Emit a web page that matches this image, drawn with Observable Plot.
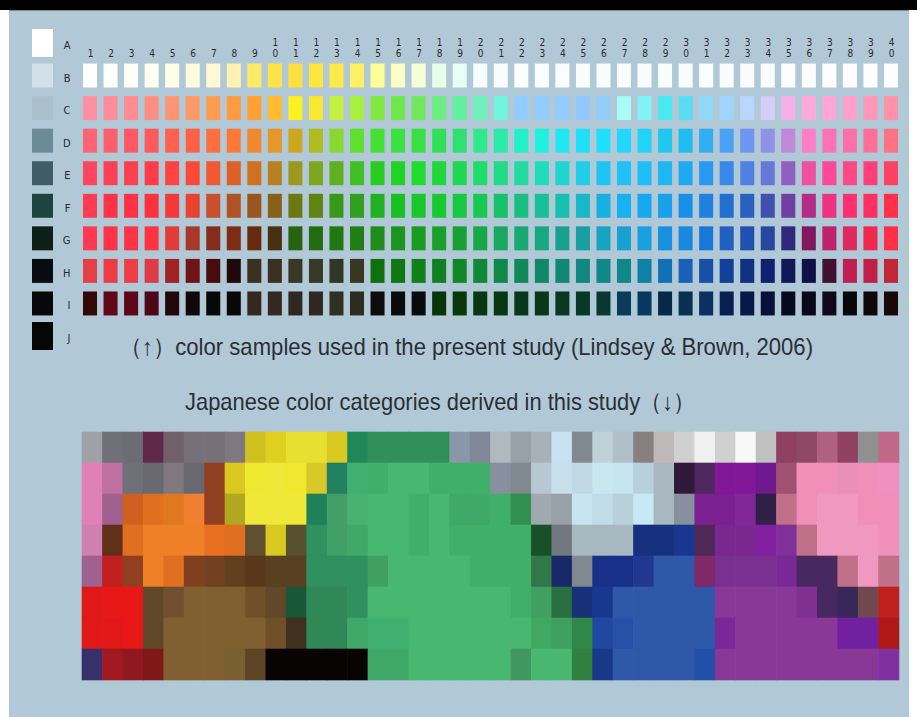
<!DOCTYPE html>
<html><head><meta charset="utf-8">
<script src="https://cdn.jsdelivr.net/npm/d3@7"></script>
<script src="https://cdn.jsdelivr.net/npm/@observablehq/plot@0.6"></script>
<style>
html,body{margin:0;padding:0;background:#fff;}
#wrap{position:relative;width:917px;height:717px;overflow:hidden;background:#fff;}
#band{position:absolute;left:0;top:0;width:917px;height:10px;background:#000;}
#panel{position:absolute;left:9px;top:10px;width:900px;height:707px;background:#b1c8d7;border-top:1px solid #7d8c94;box-sizing:border-box;}
.layer{position:absolute;left:0;top:0;}
.cap{position:absolute;white-space:nowrap;font-family:"Liberation Sans",Arial,sans-serif;font-size:24px;line-height:24px;color:#2a2f34;transform-origin:0 0;}
</style></head>
<body>
<div id="wrap"><div id="band"></div><div id="panel"></div></div>
<script>
// ---- data ----
const columns = [1,2,3,4,5,6,7,8,9,10,11,12,13,14,15,16,17,18,19,20,21,22,23,24,25,26,27,28,29,30,31,32,33,34,35,36,37,38,39,40];
const allRows = ["A","B","C","D","E","F","G","H","I","J"];
const chipRows = ["B","C","D","E","F","G","H","I"];
const achromatic = ["#ffffff","#d2e0e9","#a9c0cc","#6b8b97","#405c64","#1e4440","#0c2018","#080c10","#080808","#060606"];

const chipB = ["#ffffff","#fdfffa","#fdfff5","#fdfff0","#fefde8","#fefbdf","#fff8d2","#fff2b5","#ffea68","#ffe248","#ffe040","#ffe540","#ffea48","#fff064","#ffff98","#fcfdc4","#f5ffd6","#e8ffe8","#e6fff4","#f4ffff","#f8feff","#fafeff","#fafdff","#fafdff","#fafdff","#fafdff","#fafdff","#fafdff","#fafdff","#fafdff","#fafdff","#fafdff","#fafdff","#fafdff","#fdfdff","#fdfdff","#fdfdff","#fdfdff","#fdfdff","#fdfdff"];
const chipC = ["#ff90a2","#ff8c98","#ff8c8e","#ff8e82","#ff9474","#ff9a66","#ff9c50","#ff9a40","#ffa032","#ffbc30","#fff020","#f8e830","#c4f040","#a8f040","#80e840","#70e84c","#70e85c","#6cee80","#62f09c","#6ef2bc","#70f6dc","#90ccff","#90ccff","#90ccff","#90c8ff","#92ccf8","#a8fcf8","#80f4f4","#48eaf0","#58dcf2","#90d8f8","#a0d4ff","#b8d6ff","#d4cef8","#f6b0e8","#ffa8da","#ffa6d6","#ffa0c8","#ff98b8","#ff92aa"];
const chipD = ["#ff6474","#ff5e6c","#ff5866","#ff5a5c","#ff6050","#ff6048","#ff6e40","#ff7838","#f08830","#e49828","#cca820","#b0bc20","#88d830","#5ee030","#44e034","#3ce040","#38e044","#32e058","#30e074","#30e88e","#2ceaa8","#22f0c6","#20f0e0","#20e8f0","#20e0f8","#20deff","#20d8ff","#20d4f8","#20c8f0","#20bef0","#30aef0","#4ca0f6","#6c96f0","#9092e8","#c088d8","#ff7ec8","#ff72b8","#ff70a8","#ff7098","#ff7282"];
const chipE = ["#ff4660","#ff4056","#ff404e","#ff3c48","#ff4440","#ff4838","#f05830","#dc6028","#d07020","#b88020","#9c9820","#80a620","#60b020","#40c024","#28cc20","#20d424","#20dc2c","#20d83c","#20d850","#20dc68","#20dc84","#20dca0","#20dcba","#20d4d0","#20cce6","#20c4f2","#20c0f8","#20bef8","#20b6f0","#20a8f0","#2898f0","#3888e8","#5080e0","#6878d8","#9060c0","#f050a0","#ff4898","#ff4888","#ff4078","#ff4262"];
const chipF = ["#ff3a52","#ff3248","#ff3246","#ff3040","#f23a3a","#e84232","#c84e2c","#b05222","#9a561c","#886018","#6c7812","#608412","#389818","#30a020","#20b020","#18c020","#18c828","#18c830","#18c840","#18c850","#18c068","#18c080","#18c098","#18c0b0","#18b8c8","#18b0e0","#18b0f0","#18a8f0","#18a0e8","#1890e8","#2080e0","#2070d0","#2860c0","#4050b0","#7040a0","#b42c88","#f03080","#ff3070","#ff3060","#ff3048"];
const chipG = ["#ff3a50","#ff3448","#ff3448","#ff3440","#e23c3a","#a83828","#862c1a","#7e2e12","#682a0c","#483010","#286410","#246c12","#207812","#207e16","#208c20","#1c9420","#189c22","#18a028","#18a036","#18a848","#18a860","#18a870","#18a880","#18a090","#18a0a0","#18a4c0","#18a0d0","#18a0e0","#1890e0","#1888e0","#1878d8","#2060c0","#2050b0","#2848a0","#302878","#801860","#c02070","#e02860","#f02850","#ff3048"];
const chipH = ["#e44048","#ec3c44","#ec4048","#dc3c48","#a02424","#701414","#480c0c","#200808","#3c3020","#3c3020","#383824","#383828","#303824","#383820","#107010","#107810","#108018","#108020","#108828","#108838","#108848","#108858","#108868","#108878","#108880","#108888","#108888","#1080a8","#1070b8","#1860b8","#1850a8","#104098","#103080","#102070","#101858","#101048","#401030","#c02050","#c02048","#c02838"];
const chipI = ["#340808","#600818","#5c0818","#4c0818","#200808","#100808","#080808","#080808","#342820","#342820","#302820","#302820","#303020","#2c2c20","#0c0c0c","#0a0a0a","#0a0a0a","#083408","#083808","#083810","#083810","#083818","#083818","#083820","#083828","#083830","#083c58","#083860","#082848","#083050","#083060","#082050","#081848","#081038","#080820","#080818","#100818","#080808","#100808","#180808"];

const catB = ["#a0a0a8","#707078","#6c6c74","#602848","#706068","#787078","#787078","#807880","#d0c020","#e0d020","#e8e030","#e8e030","#d8c820","#208858","#309058","#309058","#309058","#309058","#8898a8","#808898","#b0b8c0","#98a0a8","#a8b0b8","#c8e0f0","#808890","#c0d0d8","#b0c0c8","#888080","#c0b8b8","#d0d0d0","#f0f0f0","#d0d0d0","#f8f8f8","#c0c0c0","#904060","#904868","#b06080","#904060","#909090","#c06888"];
const catC = ["#e080b8","#c070a0","#707078","#686870","#807880","#686870","#904020","#d8c820","#f0e830","#f0e838","#f0e830","#d8c828","#208060","#40b070","#40b068","#48b870","#48b870","#40b068","#40b068","#40b068","#8890a0","#808890","#b8c8d0","#c8e0ec","#c0d8e4","#c8e8f0","#c8e4f0","#b8d0dc","#a8b8c0","#301838","#502860","#801898","#801898","#701890","#a05070","#f090b8","#f090b8","#e890b8","#f090b8","#f090c0"];
const catD = ["#e080b8","#a06090","#d06020","#e07020","#e07820","#f08030","#904020","#b0a820","#f0e838","#f0e838","#f0e838","#208058","#40a068","#48b070","#48b870","#48b870","#40b068","#48b870","#40a868","#40a868","#40b068","#309050","#a0a8b0","#98a0a8","#c8e4f0","#c0dce8","#b8d0d8","#c8e8f4","#a8b8c0","#8890a0","#7a2090","#7a2090","#802898","#302048","#c07088","#f090b8","#f098c0","#f098c0","#f090b8","#f090b8"];
const catE = ["#d080b0","#603018","#e07020","#f08028","#f08028","#f08028","#e87020","#e07020","#605030","#d8c820","#585030","#309060","#40a068","#40a868","#48b870","#48b870","#40b068","#48b870","#40b068","#40b068","#40b068","#40b068","#185028","#707880","#a8b8c0","#a8b8c0","#a8b8c0","#183080","#183080","#183890","#502858","#7a2890","#7a2890","#8020a0","#803098","#c07088","#f098c0","#f098c0","#f098c0","#f090b8"];
const catF = ["#a06090","#c02020","#904020","#f08028","#e07020","#804020","#704020","#604020","#583818","#584020","#584020","#309060","#309060","#309060","#40a060","#48b870","#48b870","#48b870","#48b870","#40b068","#40b068","#40b068","#307848","#182868","#808890","#183088","#183088","#203890","#3058a8","#3058a8","#802868","#7a3090","#7a3090","#7a3090","#7a2898","#482860","#482860","#c07088","#f098c0","#c07088"];
const catG = ["#e01818","#e81818","#e81818","#604828","#705030","#806030","#806030","#806030","#705028","#604828","#185838","#308858","#308858","#309060","#48b870","#48b870","#48b870","#48b870","#48b870","#48b870","#48b870","#40b068","#40a060","#287040","#183078","#183890","#3058a8","#3058a8","#3058a8","#3058a8","#3058a8","#8a3898","#8a3898","#8a3898","#8a3898","#803090","#482860","#382858","#704850","#c02020"];
const catH = ["#e01818","#e01818","#e81818","#604828","#806030","#806030","#806030","#806030","#806030","#705028","#403020","#308858","#308858","#40a868","#40b070","#40b070","#48b870","#48b870","#48b870","#48b870","#48b870","#48b870","#40a860","#40a060","#308848","#2048a0","#2850a8","#3058a8","#3058a8","#3058a8","#3058a8","#7a2898","#8a3898","#8a3898","#8a3898","#8a3898","#8a3898","#7020a0","#7020a0","#b01818"];
const catI = ["#383068","#a01820","#901820","#801818","#806030","#806030","#806030","#7a6030","#5c4424","#080404","#080404","#080404","#080404","#080404","#40a868","#40a868","#48b870","#48b870","#48b870","#48b870","#48b870","#409860","#48b870","#48b870","#308040","#183888","#3058a8","#3058a8","#3058a8","#3058a8","#2050a8","#8a3898","#8a3898","#8a3898","#8a3898","#8a3898","#8a3898","#8a3898","#8a3898","#8030a0"];

const caption1 = "（↑）color samples used in the present study (Lindsey & Brown, 2006)";
const caption2 = "Japanese color categories derived in this study（↓）";

// ---- tables ----
const chipSeries = [chipB,chipC,chipD,chipE,chipF,chipG,chipH,chipI];
const catSeries = [catB,catC,catD,catE,catF,catG,catH,catI];
const chipTable = chipRows.flatMap((r,i)=>chipSeries[i].map((c,j)=>({row:r,col:columns[j],color:c})));
const catTable = chipRows.flatMap((r,i)=>catSeries[i].map((c,j)=>({row:r,col:columns[j],color:c})));
const achroTable = allRows.map((r,i)=>({row:r,col:"N",color:achromatic[i]}));

const W = 917, H = 717;
const wrap = document.getElementById("wrap");
const common = {width:W, height:H, color:{type:"identity"}, style:{background:"transparent", overflow:"visible"}};
const yTop = {type:"band", domain:allRows, paddingInner:0.264, paddingOuter:0, round:false};

// achromatic column
const p1 = Plot.plot({...common,
  marginLeft:32, marginRight:W-53, marginTop:31, marginBottom:H-348,
  x:{type:"band", domain:["N"], padding:0, axis:null, round:false},
  y:{...yTop, axis:null},
  marks:[
    Plot.cell(achroTable.filter(d=>d.row!=="A" && d.row!=="J"), {x:"col", y:"row", fill:"color"}),
    Plot.cell(achroTable.filter(d=>d.row==="A" || d.row==="J"), {x:"col", y:"row", fill:"color", insetTop:-2, insetBottom:-2})
  ]
});

// colour chip grid
const labelFont = "'Liberation Sans Narrow','DejaVu Sans Condensed','Liberation Sans',sans-serif";
const p2 = Plot.plot({...common,
  marginLeft:83, marginRight:W-898, marginTop:31, marginBottom:H-348,
  x:{type:"band", domain:columns, paddingInner:0.317, paddingOuter:0, round:false, axis:null},
  y:{...yTop, axis:null},
  marks:[
    Plot.cell(chipTable, {x:"col", y:"row", fill:"color"}),
    Plot.axisX({anchor:"top", label:null, tickSize:0, tickPadding:0, dy:25, fontSize:10, lineHeight:1.05, fill:"#2a2a2a", fontFamily:labelFont,
      tickFormat:d => d < 10 ? String(d) : String(d)[0] + "\n" + String(d)[1]}),
    Plot.axisY({anchor:"left", label:null, tickSize:0, tickPadding:13, dy:2, fontSize:11, fill:"#2a2a2a", fontFamily:labelFont})
  ]
});

// category mosaic
const p3 = Plot.plot({...common,
  marginLeft:82, marginRight:W-899, marginTop:432, marginBottom:H-680,
  x:{type:"band", domain:columns, padding:0, round:false, axis:null},
  y:{type:"band", domain:chipRows, padding:0, round:false, axis:null},
  marks:[
    Plot.cell(catTable, {x:"col", y:"row", fill:"color", insetLeft:-0.3, insetRight:-0.3, insetTop:-0.3, insetBottom:-0.3})
  ]
});

for (const p of [p1,p2,p3]) { p.classList.add("layer"); p.style.position="absolute"; p.style.left="0"; p.style.top="0"; wrap.appendChild(p); }

function addCaption(text, left, top, targetW) {
  const d = document.createElement("div");
  d.className = "cap";
  d.textContent = text;
  d.style.left = left + "px";
  d.style.top = top + "px";
  wrap.appendChild(d);
  const w = d.getBoundingClientRect().width;
  d.style.transform = "scaleX(" + (targetW / w) + ")";
}
addCaption(caption1, 120, 335, 693);
addCaption(caption2, 185, 390, 510);
</script>
</body></html>
